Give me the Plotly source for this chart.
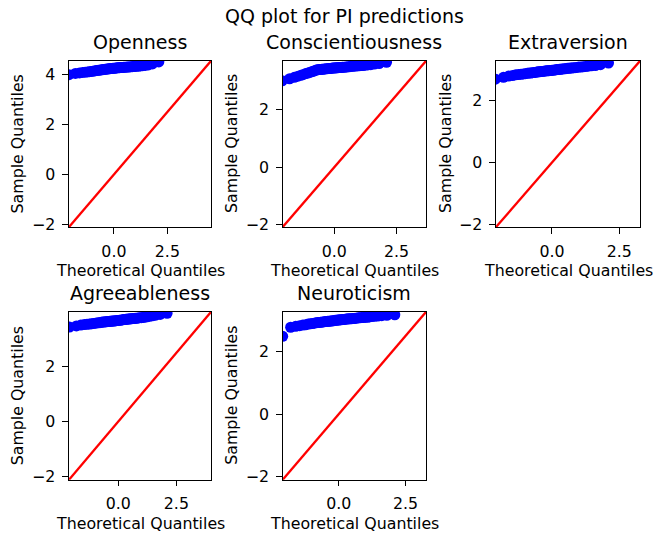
import plotly.graph_objects as go
from statistics import NormalDist

# ---------------- data (sample quantiles, sorted) ----------------
TRAITS = ["Openness", "Conscientiousness", "Extraversion", "Agreeableness", "Neuroticism"]

OPENNESS = [3.99, 4.04, 4.06, 4.08, 4.09, 4.10, 4.11, 4.12, 4.13, 4.14, 4.15, 4.16, 4.17, 4.17,
            4.18, 4.19, 4.19, 4.20, 4.21, 4.21, 4.22, 4.22, 4.23, 4.23, 4.24, 4.24, 4.25, 4.25,
            4.25, 4.26, 4.26, 4.27, 4.27, 4.27, 4.28, 4.28, 4.28, 4.29, 4.29, 4.29, 4.30, 4.30,
            4.30, 4.31, 4.31, 4.32, 4.32, 4.33, 4.33, 4.34, 4.35, 4.36, 4.38, 4.42, 4.50]

CONSCIENTIOUSNESS = [3.00, 3.07, 3.12, 3.16, 3.19, 3.22, 3.25, 3.27, 3.29, 3.31, 3.33, 3.35, 3.37,
                     3.38, 3.39, 3.39, 3.40, 3.40, 3.41, 3.41, 3.42, 3.42, 3.43, 3.43, 3.43, 3.44,
                     3.44, 3.44, 3.45, 3.45, 3.45, 3.46, 3.46, 3.46, 3.47, 3.47, 3.47, 3.48, 3.48,
                     3.49, 3.49, 3.50, 3.50, 3.51, 3.51, 3.52, 3.52, 3.53, 3.53, 3.54, 3.55, 3.56,
                     3.58, 3.60, 3.64]

EXTRAVERSION = [2.68, 2.74, 2.78, 2.80, 2.82, 2.83, 2.84, 2.85, 2.86, 2.87, 2.88, 2.88, 2.89, 2.90,
                2.90, 2.91, 2.92, 2.92, 2.93, 2.93, 2.94, 2.94, 2.95, 2.95, 2.95, 2.96, 2.96, 2.97,
                2.97, 2.98, 2.98, 2.99, 2.99, 3.00, 3.00, 3.01, 3.01, 3.02, 3.02, 3.03, 3.03, 3.04,
                3.04, 3.05, 3.05, 3.06, 3.07, 3.07, 3.08, 3.09, 3.10, 3.11, 3.12, 3.15, 3.20]

AGREEABLENESS = [3.44, 3.48, 3.51, 3.53, 3.54, 3.55, 3.56, 3.57, 3.58, 3.59, 3.60, 3.60, 3.61, 3.62,
                 3.62, 3.63, 3.63, 3.64, 3.64, 3.65, 3.65, 3.66, 3.66, 3.66, 3.67, 3.67, 3.68, 3.68,
                 3.69, 3.69, 3.70, 3.70, 3.71, 3.71, 3.72, 3.72, 3.73, 3.73, 3.74, 3.74, 3.75, 3.75,
                 3.76, 3.76, 3.77, 3.78, 3.78, 3.79, 3.80, 3.81, 3.83, 3.85, 3.87, 3.90, 3.94]

NEUROTICISM = [2.49, 2.78, 2.81, 2.83, 2.85, 2.86, 2.88, 2.89, 2.90, 2.91, 2.92, 2.93, 2.93, 2.94,
               2.95, 2.95, 2.96, 2.96, 2.97, 2.97, 2.98, 2.98, 2.99, 2.99, 3.00, 3.00, 3.01, 3.01,
               3.02, 3.02, 3.03, 3.03, 3.03, 3.04, 3.04, 3.05, 3.05, 3.05, 3.06, 3.06, 3.07, 3.07,
               3.08, 3.08, 3.09, 3.09, 3.10, 3.10, 3.11, 3.12, 3.13, 3.14, 3.15, 3.16, 3.18]

SERIES = [OPENNESS, CONSCIENTIOUSNESS, EXTRAVERSION, AGREEABLENESS, NEUROTICISM]

# 45-degree reference line end points (= shared axis limits of each panel)
LINE_LOW = [-2.10, -2.08, -2.08, -2.12, -2.10]
LINE_HIGH = [4.54, 3.69, 3.27, 3.99, 3.27]

X_TICKS = [-2.5, 0.0, 2.5]
X_TICK_LABELS = ["\u22122.5", "0.0", "2.5"]
Y_TICKS = [-4, -2, 0, 2, 4, 6]
Y_TICK_LABELS = ["\u22124", "\u22122", "0", "2", "4", "6"]

TITLE = "QQ plot for PI predictions"
X_LABEL = "Theoretical Quantiles"
Y_LABEL = "Sample Quantiles"

# ---------------- layout geometry (pixels) ----------------
W, H = 653, 543
COLS_PX = [(69, 211), (282.7, 426), (496, 640)]
ROWS_PX = [(61.7, 230), (316, 486)]
YLABEL_X = [17.5, 232, 446]

FONT = "DejaVu Sans"
TICK_SIZE = 15.8
TITLE_SIZE = 19


def px(x):
    return x / W


def py(y):
    return 1 - y / H


fig = go.Figure()
annotations = []
layout_axes = {}

for k, (name, vals) in enumerate(zip(TRAITS, SERIES)):
    r, c = divmod(k, 3)
    s = "" if k == 0 else str(k + 1)
    n = len(vals)
    theo = [NormalDist().inv_cdf(i / (n + 1)) for i in range(1, n + 1)]
    lo, hi = LINE_LOW[k], LINE_HIGH[k]

    fig.add_trace(go.Scatter(x=theo, y=vals, mode="markers",
                             marker=dict(color="#0000ff", size=11, line=dict(width=0)),
                             xaxis="x" + s, yaxis="y" + s, showlegend=False, hoverinfo="skip"))
    fig.add_trace(go.Scatter(x=[lo, hi], y=[lo, hi], mode="lines",
                             line=dict(color="#ff0000", width=2.3),
                             xaxis="x" + s, yaxis="y" + s, showlegend=False, hoverinfo="skip"))

    x0, x1 = COLS_PX[c]
    y0, y1 = ROWS_PX[r]
    common = dict(showline=True, mirror=True, linecolor="black", linewidth=1.2,
                  ticks="outside", ticklen=5.5, tickwidth=1.2, tickcolor="black",
                  ticklabelstandoff=4,
                  showgrid=False, zeroline=False,
                  tickfont=dict(family=FONT, size=TICK_SIZE, color="black"))
    layout_axes["xaxis" + s] = dict(domain=[px(x0), px(x1)], anchor="y" + s, range=[lo, hi],
                                    tickmode="array", tickvals=X_TICKS, ticktext=X_TICK_LABELS,
                                    **common)
    layout_axes["yaxis" + s] = dict(domain=[py(y1), py(y0)], anchor="x" + s, range=[lo, hi],
                                    tickmode="array", tickvals=Y_TICKS, ticktext=Y_TICK_LABELS,
                                    **common)

    xc = (x0 + x1) / 2
    yc = (y0 + y1) / 2
    annotations.append(dict(text=name, x=px(xc), y=py(y0 - 6), xref="paper", yref="paper",
                            xanchor="center", yanchor="bottom", showarrow=False,
                            font=dict(family=FONT, size=TITLE_SIZE, color="black")))
    annotations.append(dict(text=X_LABEL, x=px(xc), y=py(y1 + 44), xref="paper", yref="paper",
                            xanchor="center", yanchor="middle", showarrow=False,
                            font=dict(family=FONT, size=TICK_SIZE, color="black")))
    annotations.append(dict(text=Y_LABEL, x=px(YLABEL_X[c]), y=py(yc), xref="paper", yref="paper",
                            xanchor="center", yanchor="middle", textangle=-90, showarrow=False,
                            font=dict(family=FONT, size=TICK_SIZE, color="black")))

annotations.append(dict(text=TITLE, x=px(344.5), y=py(16), xref="paper", yref="paper",
                        xanchor="center", yanchor="middle", showarrow=False,
                        font=dict(family=FONT, size=TITLE_SIZE, color="black")))

fig.update_layout(width=W, height=H, autosize=False,
                  margin=dict(l=0, r=0, t=0, b=0, pad=0),
                  paper_bgcolor="white", plot_bgcolor="white",
                  annotations=annotations, **layout_axes)

fig.write_html("out.html")
